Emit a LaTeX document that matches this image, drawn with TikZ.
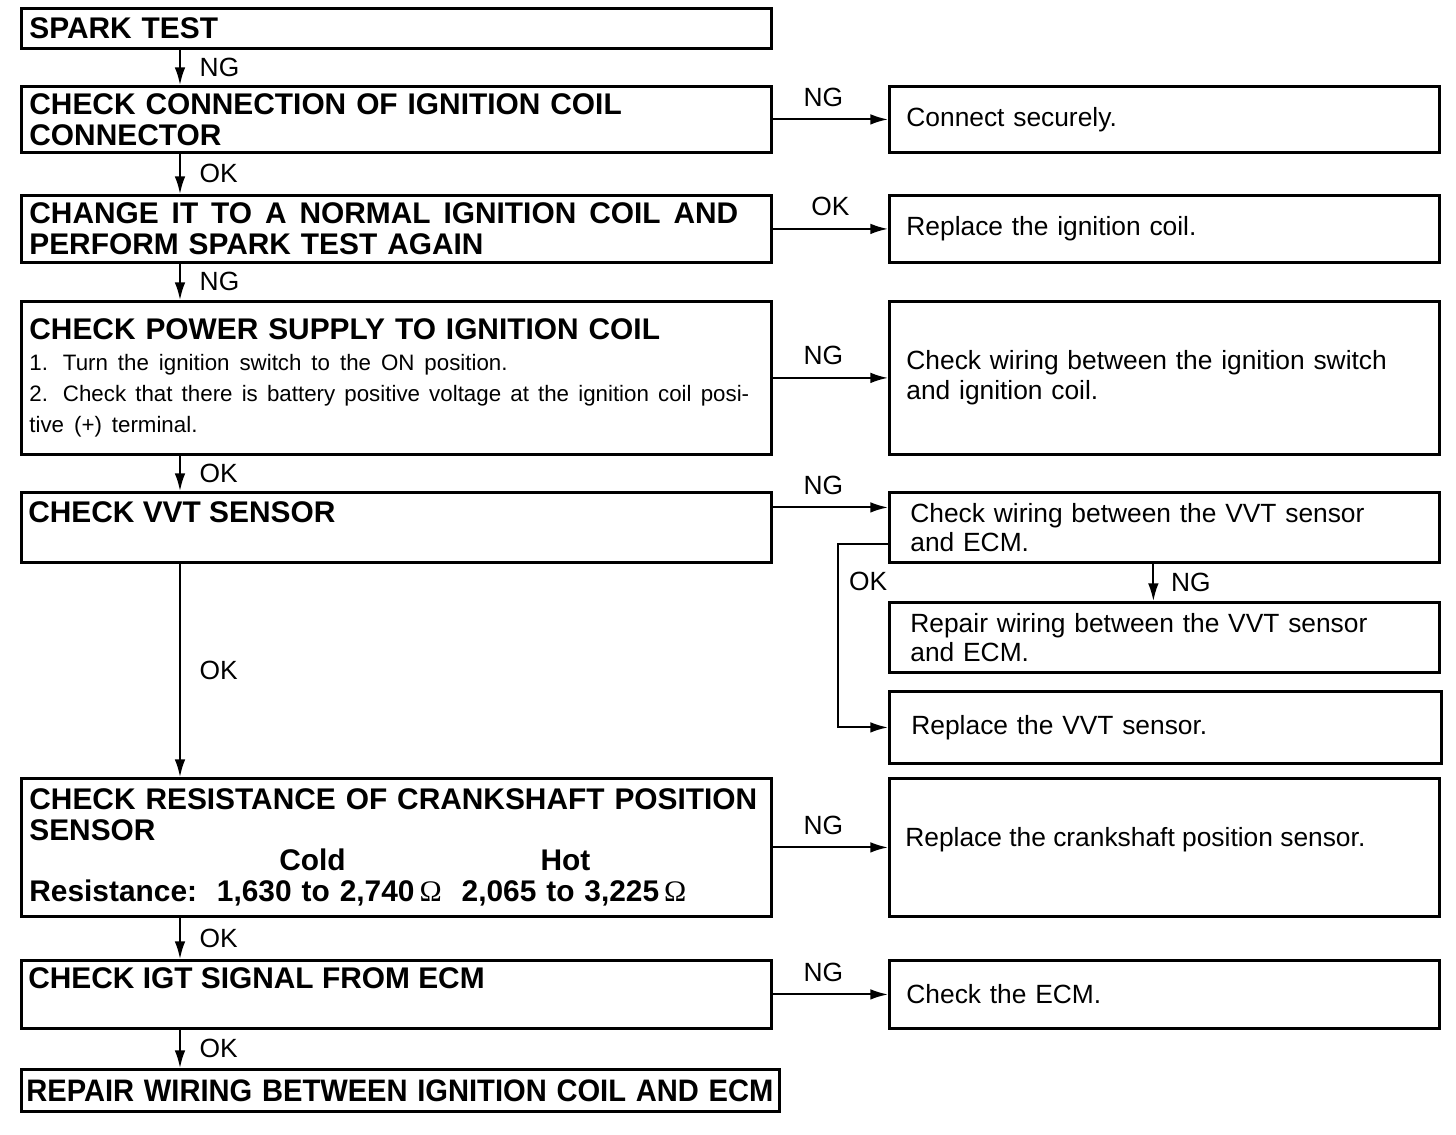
\documentclass[tikz,border=0pt]{standalone}
\usepackage{fontspec}
\setmainfont{Liberation Sans}
\newfontfamily\ohmfont{Liberation Serif}
\usetikzlibrary{arrows.meta, positioning, calc}
\newcommand{\headfont}{\fontsize{17}{17.6}\selectfont\bfseries}
\newcommand{\bodyfont}{\fontsize{15}{16.8}\selectfont}
\newcommand{\notefont}{\fontsize{12.7}{17.6}\selectfont\mdseries}
\newcommand{\ohm}{{\ohmfont\mdseries Ω}}
% a line spread to a given width
\newcommand{\spreadline}[2]{\leavevmode\hbox to #1{\spaceskip=0.28em plus 1fil\relax #2}}

\begin{document}
\begin{tikzpicture}[x=0.02cm, y=-0.02cm,
  leftbox/.style={rectangle, draw, line width=1.6pt, anchor=north west,
    text width=14.68cm, inner xsep=0.16cm, inner ysep=0pt, align=left, font=\headfont},
  rightbox/.style={rectangle, draw, line width=1.6pt, anchor=north west,
    text width=10.32cm, inner xsep=0.34cm, inner ysep=0pt, align=left, font=\bodyfont},
  conn/.style={line width=1.1pt, -{Latex[length=10pt,width=6pt]}},
  lab/.style={font=\bodyfont, inner sep=1pt},
]
  \useasboundingbox (0,0) rectangle (1456,1134);
  \coordinate (spine) at (180,0);

  % Left column
  \node[leftbox, minimum height=0.8cm] (spark) at (20,7) {SPARK TEST};
  \node[leftbox, minimum height=1.32cm] (conn) at (20,85)
    {CHECK CONNECTION OF IGNITION COIL\\CONNECTOR};
  \node[leftbox, minimum height=1.34cm] (change) at (20,194)
    {\spreadline{14.18cm}{CHANGE IT TO A NORMAL IGNITION COIL AND}\\
     PERFORM SPARK TEST AGAIN};
  \node[leftbox, minimum height=3.06cm] (power) at (20,300)
    {{\headfont CHECK POWER SUPPLY TO IGNITION COIL\par}\notefont
     1. Turn the ignition switch to the ON position.\\
     \spreadline{14.4cm}{2. Check that there is battery positive voltage at the ignition coil posi-}\\
     tive (+) terminal.};
  \node[leftbox, minimum height=1.4cm] (vvt) at (20,491) {};
  \node[font=\headfont, anchor=north west, inner sep=0pt] (vvttext)
    at ([shift={(8,10)}]vvt.north west) {CHECK VVT SENSOR};
  \node[leftbox, minimum height=2.76cm] (crank) at (20,777)
    {CHECK RESISTANCE OF CRANKSHAFT POSITION\\SENSOR\\
     \hspace*{5.0cm}Cold\hspace*{3.9cm}Hot\\
     Resistance:\ \ 1,630 to 2,740\,\ohm\ \ 2,065 to 3,225\,\ohm};
  \node[leftbox, minimum height=1.36cm] (igt) at (20,959) {};
  \node[font=\headfont, anchor=north west, inner sep=0pt] (igttext)
    at ([shift={(8,8)}]igt.north west) {CHECK IGT SIGNAL FROM ECM};
  \node[leftbox, minimum height=0.84cm, text width=14.96cm, inner xsep=0.1cm] (repair)
    at (20,1068) {\scalebox{0.975}[1.04]{REPAIR WIRING BETWEEN IGNITION COIL AND ECM}};

  % Right column
  \node[rightbox, minimum height=1.32cm] (secure) at (888,85) {Connect securely.};
  \node[rightbox, minimum height=1.34cm] (newcoil) at (888,194) {Replace the ignition coil.};
  \node[rightbox, minimum height=3.06cm] (swwire) at (888,300)
    {Check wiring between the ignition switch\\and ignition coil.};
  \node[rightbox, minimum height=1.4cm, text width=10.16cm, inner xsep=0.42cm] (vvtwire)
    at (888,491) {Check wiring between the VVT sensor\\and ECM.};
  \node[rightbox, minimum height=1.4cm, text width=10.16cm, inner xsep=0.42cm] (fixwire)
    at (888,601) {Repair wiring between the VVT sensor\\and ECM.};
  \node[rightbox, minimum height=1.44cm, text width=10.16cm, inner xsep=0.44cm] (newvvt)
    at (888,690) {Replace the VVT sensor.};
  \node[rightbox, minimum height=2.76cm] (newcrank) at (888,777) {};
  \node[font=\bodyfont, anchor=base west, inner sep=0pt] (newcranktext)
    at ([shift={(17,69)}]newcrank.north west) {Replace the crankshaft position sensor.};
  \node[rightbox, minimum height=1.36cm] (ecm) at (888,959) {Check the ECM.};

  % Main line
  \draw[conn] (spark.south -| spine) -- node[lab, midway, right=0.34cm] {NG} (conn.north -| spine);
  \draw[conn] (conn.south -| spine) -- node[lab, midway, right=0.34cm] {OK} (change.north -| spine);
  \draw[conn] (change.south -| spine) -- node[lab, midway, right=0.34cm] {NG} (power.north -| spine);
  \draw[conn] (power.south -| spine) -- node[lab, midway, right=0.34cm] {OK} (vvt.north -| spine);
  \draw[conn] (vvt.south -| spine) -- node[lab, midway, right=0.34cm] {OK} (crank.north -| spine);
  \draw[conn] (crank.south -| spine) -- node[lab, midway, right=0.34cm] {OK} (igt.north -| spine);
  \draw[conn] (igt.south -| spine) -- node[lab, midway, right=0.34cm] {OK} (repair.north -| spine);

  % Branches
  \draw[conn] (conn.east) -- node[lab, midway, above=0.2cm, xshift=-0.14cm] {NG} (secure.west);
  \draw[conn] (change.east) -- node[lab, midway, above=0.2cm] {OK} (newcoil.west);
  \draw[conn] (power.east) -- node[lab, midway, above=0.2cm, xshift=-0.14cm] {NG} (swwire.west);
  \draw[conn] ([yshift=0.4cm]vvt.east) -- node[lab, midway, above=0.2cm, xshift=-0.14cm] {NG}
    ([yshift=0.4cm]vvtwire.west);
  \draw[conn] ([xshift=-0.22cm]vvtwire.south) -- node[lab, midway, right=0.3cm] {NG}
    ([xshift=-0.22cm]fixwire.north);
  \draw[conn] ([yshift=0.4cm]vvtwire.south west) -- ++(-50,0) coordinate (okturn)
    |- (newvvt.west);
  \node[lab, anchor=north west] (okvvt) at ([shift={(9,26)}]okturn) {OK};
  \draw[conn] (crank.east) -- node[lab, midway, above=0.2cm, xshift=-0.14cm] {NG} (newcrank.west);
  \draw[conn] (igt.east) -- node[lab, midway, above=0.2cm, xshift=-0.14cm] {NG} (ecm.west);
\end{tikzpicture}
\end{document}
